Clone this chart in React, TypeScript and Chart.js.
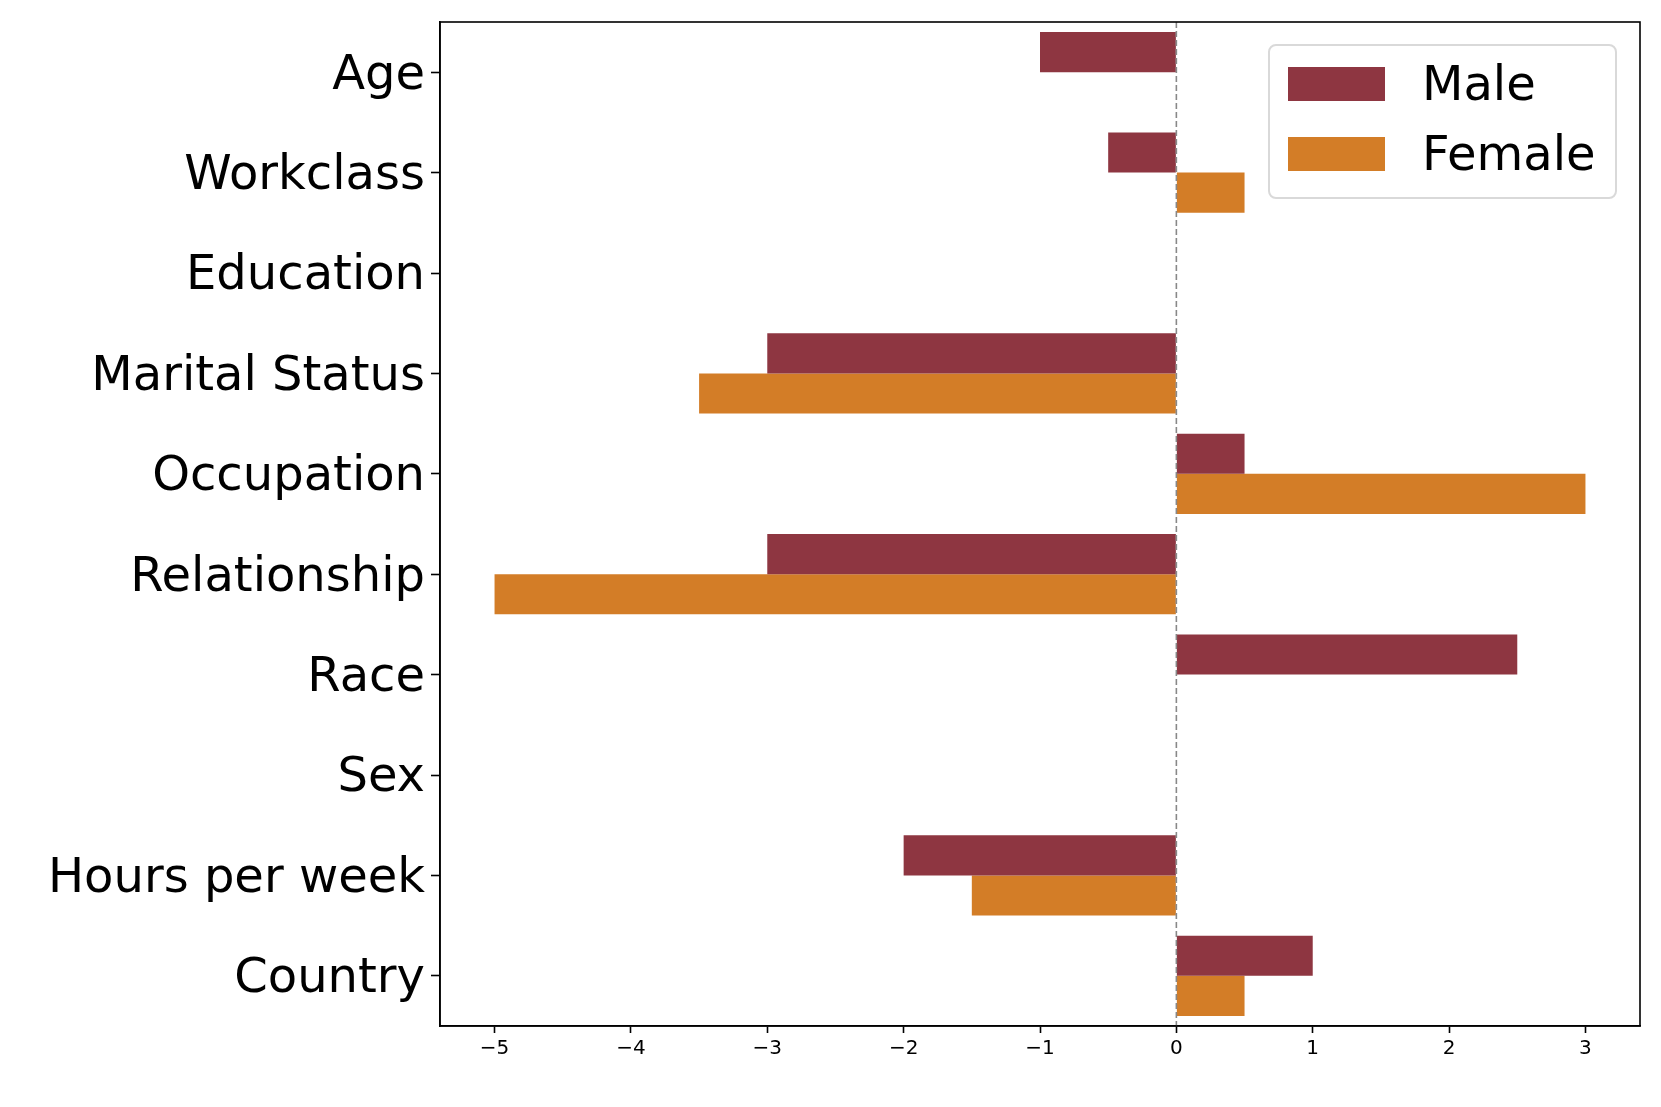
import React, { useEffect, useRef } from 'react';
import { Chart, registerables } from 'chart.js';

Chart.register(...registerables);

const categories = ['Age', 'Workclass', 'Education', 'Marital Status', 'Occupation', 'Relationship', 'Race', 'Sex', 'Hours per week', 'Country'];
const maleValues = [-1, -0.5, 0, -3, 0.5, -3, 2.5, 0, -2, 1];
const femaleValues = [0, 0.5, 0, -3.5, 3, -5, 0, 0, -1.5, 0.5];
const xTickValues = [-5, -4, -3, -2, -1, 0, 1, 2, 3];
const seriesLabels = ['Male', 'Female'];
const seriesColors = ['#8E3641', '#D37D27'];

const FONT = 'DejaVu Sans';

const framePlugin = {
  id: 'frameAndZero',
  afterDatasetsDraw(chart: any) {
    const { ctx, chartArea, scales } = chart;
    const x0 = scales.x.getPixelForValue(0);
    ctx.save();
    ctx.strokeStyle = '#888888';
    ctx.lineWidth = 1.6;
    ctx.setLineDash([6, 3]);
    ctx.beginPath();
    ctx.moveTo(x0, chartArea.top);
    ctx.lineTo(x0, chartArea.bottom);
    ctx.stroke();
    ctx.setLineDash([]);
    ctx.strokeStyle = '#000000';
    ctx.lineWidth = 1.6;
    ctx.strokeRect(chartArea.left, chartArea.top, chartArea.right - chartArea.left, chartArea.bottom - chartArea.top);
    ctx.restore();
  },
};

const legendPlugin = {
  id: 'insideLegend',
  afterDraw(chart: any) {
    const { ctx, chartArea } = chart;
    const w = 347;
    const h = 153;
    const right = chartArea.right - 24;
    const left = right - w;
    const top = chartArea.top + 23;
    ctx.save();
    ctx.beginPath();
    (ctx as any).roundRect(left, top, w, h, 7);
    ctx.fillStyle = 'rgba(255,255,255,0.85)';
    ctx.fill();
    ctx.strokeStyle = '#d9d9d9';
    ctx.lineWidth = 2;
    ctx.stroke();
    chart.data.datasets.forEach((ds: any, i: number) => {
      const py = top + 22 + i * 70;
      ctx.fillStyle = ds.backgroundColor;
      ctx.fillRect(left + 19, py, 97, 34);
      ctx.fillStyle = '#000000';
      ctx.font = `48px "${FONT}"`;
      ctx.textBaseline = 'middle';
      ctx.textAlign = 'left';
      ctx.fillText(ds.label, left + 153, py + 21);
    });
    ctx.restore();
  },
};

export default function App() {
  const ref = useRef<HTMLCanvasElement | null>(null);

  useEffect(() => {
    document.body.style.margin = '0';
    if (!ref.current) return;
    const chart = new Chart(ref.current, {
      type: 'bar',
      data: {
        labels: categories,
        datasets: [
          { label: seriesLabels[0], data: maleValues, backgroundColor: seriesColors[0], borderWidth: 0, categoryPercentage: 0.8, barPercentage: 1.0 },
          { label: seriesLabels[1], data: femaleValues, backgroundColor: seriesColors[1], borderWidth: 0, categoryPercentage: 0.8, barPercentage: 1.0 },
        ],
      },
      options: {
        indexAxis: 'y',
        animation: false,
        responsive: false,
        devicePixelRatio: 1,
        layout: { padding: { top: 22, right: 21, left: 0, bottom: 0 } },
        plugins: {
          legend: { display: false },
          tooltip: { enabled: false },
        },
        scales: {
          x: {
            type: 'linear',
            min: -5.4,
            max: 3.4,
            afterFit: (scale: any) => { scale.height = 81; scale.paddingLeft = 0; scale.paddingRight = 0; },
            afterBuildTicks: (scale: any) => { scale.ticks = xTickValues.map((v) => ({ value: v })); },
            ticks: {
              includeBounds: false,
              color: '#000000',
              font: { family: FONT, size: 20 },
              padding: 4,
              maxRotation: 0,
              callback: (v: any) => (Number(v) < 0 ? '\u2212' + Math.abs(Number(v)) : String(v)),
            },
            grid: { drawOnChartArea: false, drawTicks: true, tickLength: 7, tickColor: '#000000', tickWidth: 1.6 },
            border: { display: true, color: '#000000', width: 1.6 },
          },
          y: {
            type: 'category',
            offset: true,
            afterFit: (scale: any) => { scale.width = 440; scale.paddingTop = 0; scale.paddingBottom = 0; },
            ticks: {
              color: '#000000',
              font: { family: FONT, size: 48 },
              padding: 6,
              labelOffset: 4,
            },
            grid: { drawOnChartArea: false, drawTicks: true, tickLength: 9, tickColor: '#000000', tickWidth: 1.6, offset: false },
            border: { display: true, color: '#000000', width: 1.6 },
          },
        },
      },
      plugins: [framePlugin, legendPlugin],
    } as any);
    return () => chart.destroy();
  }, []);

  return (
    <div style={{ width: 1661, height: 1107, background: '#ffffff' }}>
      <canvas ref={ref} width={1661} height={1107} style={{ display: 'block' }} />
    </div>
  );
}
